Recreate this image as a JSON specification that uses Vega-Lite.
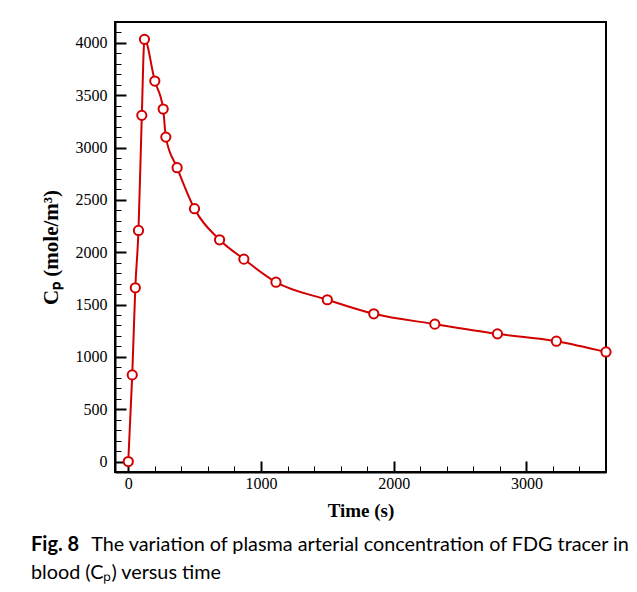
{
  "$schema": "https://vega.github.io/schema/vega-lite/v6.json",
  "width": 491,
  "height": 450,
  "autosize": "none",
  "padding": {"left": 115, "top": 22, "right": 31, "bottom": 120},
  "background": "white",
  "data": {"values": [
    {"t": 0, "C": 0},
    {"t": 30, "C": 828},
    {"t": 53, "C": 1660},
    {"t": 77, "C": 2208},
    {"t": 102, "C": 3308},
    {"t": 122, "C": 4034},
    {"t": 200, "C": 3636},
    {"t": 263, "C": 3368},
    {"t": 283, "C": 3100},
    {"t": 368, "C": 2808},
    {"t": 499, "C": 2416},
    {"t": 688, "C": 2119},
    {"t": 871, "C": 1934},
    {"t": 1113, "C": 1714},
    {"t": 1500, "C": 1546},
    {"t": 1850, "C": 1412},
    {"t": 2310, "C": 1313},
    {"t": 2782, "C": 1220},
    {"t": 3226, "C": 1150},
    {"t": 3600, "C": 1047}
  ]},
  "title": {
    "text": "Fig. 8",
    "subtitle": ["\u200b\u00a0\u00a0\u00a0\u00a0\u00a0\u00a0\u00a0\u00a0\u00a0\u00a0\u00a0\u00a0The variation of plasma arterial concentration of FDG tracer in", "blood (Cₚ) versus time"],
    "orient": "bottom",
    "anchor": "start",
    "frame": "group",
    "dx": -84,
    "offset": 15,
    "font": "Lato",
    "fontSize": 20,
    "fontWeight": "bold",
    "color": "black",
    "subtitleFont": "Lato",
    "subtitleFontSize": 19.8,
    "subtitleFontWeight": "normal",
    "subtitleColor": "black",
    "subtitlePadding": -20,
    "subtitleLineHeight": 28
  },
  "config": {
    "view": {"stroke": "black", "strokeWidth": 2},
    "axis": {
      "grid": false,
      "domainColor": "black",
      "domainWidth": 2,
      "tickColor": "black",
      "labelColor": "black",
      "titleColor": "black",
      "labelFont": "Liberation Serif",
      "labelFontSize": 16,
      "titleFont": "Liberation Serif",
      "titleFontSize": 19,
      "titleFontWeight": "bold"
    }
  },
  "resolve": {"axis": {"x": "independent", "y": "independent"}},
  "layer": [
    {
      "mark": {"type": "line", "color": "#d10000", "strokeWidth": 2, "interpolate": "monotone"},
      "encoding": {
        "x": {"field": "t", "type": "quantitative", "scale": {"domain": [-100, 3600], "nice": false, "zero": false},
              "axis": {"orient": "bottom", "values": [0, 1000, 2000, 3000], "format": "d", "tickSize": -11, "tickWidth": 2, "labelPadding": 14, "title": "Time (s)", "titlePadding": 10}},
        "y": {"field": "C", "type": "quantitative", "scale": {"domain": [-100, 4200], "nice": false, "zero": false},
              "axis": {"orient": "left", "values": [0, 500, 1000, 1500, 2000, 2500, 3000, 3500, 4000], "format": "d", "tickSize": -11, "tickWidth": 2, "labelPadding": 19, "title": "Cₚ (mole/m³)", "titleFontSize": 21, "titlePadding": 14}}
      }
    },
    {
      "mark": {"type": "point", "shape": "circle", "filled": true, "fill": "white", "stroke": "#d10000", "strokeWidth": 2, "size": 85, "opacity": 1},
      "encoding": {
        "x": {"field": "t", "type": "quantitative",
              "axis": {"orient": "bottom", "values": [200, 400, 600, 800, 1200, 1400, 1600, 1800, 2200, 2400, 2600, 2800, 3200, 3400], "tickSize": -6, "tickWidth": 1, "labels": false, "domain": false, "title": null}},
        "y": {"field": "C", "type": "quantitative",
              "axis": {"orient": "left", "values": [-100, 100, 200, 300, 400, 600, 700, 800, 900, 1100, 1200, 1300, 1400, 1600, 1700, 1800, 1900, 2100, 2200, 2300, 2400, 2600, 2700, 2800, 2900, 3100, 3200, 3300, 3400, 3600, 3700, 3800, 3900, 4100], "tickSize": -6, "tickWidth": 1, "labels": false, "domain": false, "title": null}}
      }
    }
  ]
}
